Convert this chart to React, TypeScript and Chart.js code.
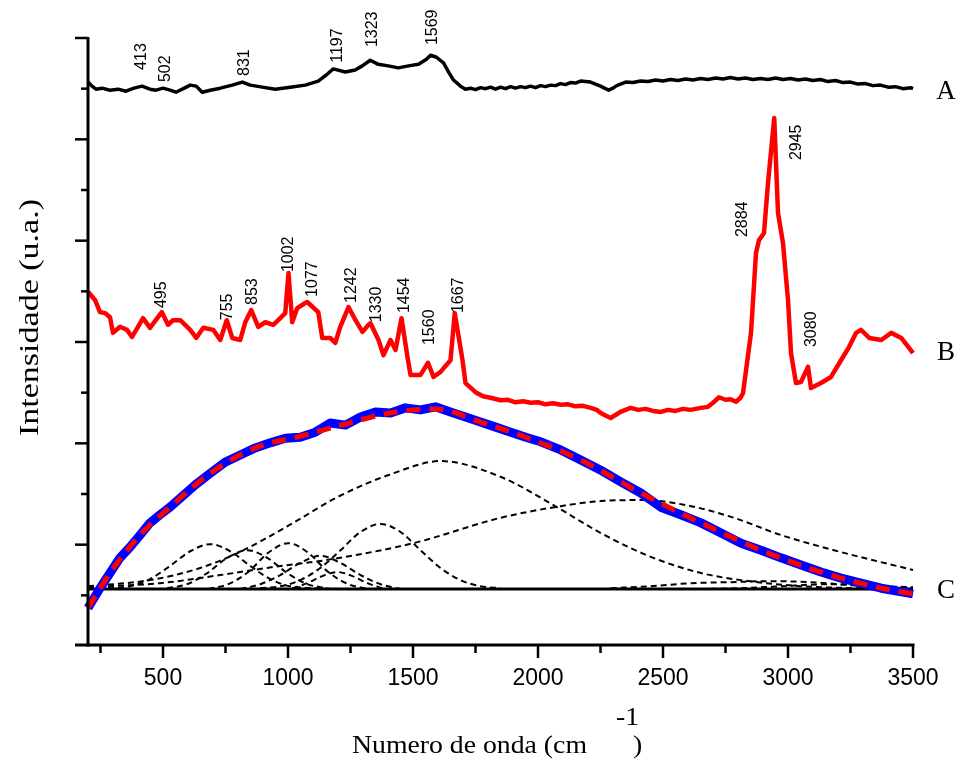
import React, { useEffect, useRef } from "react";
import { Chart, registerables } from "chart.js";

Chart.register(...registerables);

// ---------- axis ----------
const xMin = 200;
const xMax = 3500;
const yMin = 0;
const yMax = 12;
const xTickLabels = [500, 1000, 1500, 2000, 2500, 3000, 3500];

// ---------- spectrum A (black) ----------
const aWave = [200, 216, 232, 256, 288, 320, 352, 384, 416, 448, 472, 500, 528, 552, 585, 609, 633, 657, 689, 729, 777, 817, 849, 897, 949, 1009, 1069, 1121, 1153, 1181, 1229, 1269, 1297, 1329, 1361, 1401, 1441, 1482, 1522, 1554, 1570, 1594, 1622, 1642, 1662,
  1690, 1710, 1730, 1750, 1770, 1790, 1810, 1830, 1850, 1870, 1890, 1910, 1930, 1950, 1970, 1990, 2010, 2030, 2050, 2070, 2090, 2110, 2130, 2150, 2170, 2190, 2210, 2230, 2250, 2270, 2283, 2300, 2315, 2335, 2351, 2380, 2410, 2440, 2470, 2500, 2530, 2560, 2590, 2620, 2650, 2680, 2710, 2740, 2770, 2800, 2830, 2860, 2890, 2920, 2950, 2980, 3010, 3040, 3070, 3100, 3130, 3160, 3190, 3220, 3250, 3280, 3310, 3340, 3370, 3400, 3430, 3460, 3490, 3500];
const aInt = [11.13, 11.05, 10.99, 11.01, 10.97, 10.99, 10.95, 11.01, 11.05, 10.99, 10.97, 11.01, 10.97, 10.93, 11.01, 11.07, 11.05, 10.93, 10.97, 11.01, 11.07, 11.13, 11.07, 11.03, 10.99, 11.03, 11.07, 11.15, 11.27, 11.39, 11.33, 11.37, 11.45, 11.56, 11.48, 11.45, 11.41, 11.45, 11.48, 11.58, 11.66, 11.62, 11.51, 11.33, 11.17,
  11.05, 10.99, 11.01, 10.98, 11.02, 11.00, 11.03, 10.99, 11.03, 11.00, 11.04, 11.01, 11.04, 11.02, 11.05, 11.02, 11.06, 11.04, 11.07, 11.06, 11.10, 11.08, 11.12, 11.11, 11.15, 11.14, 11.13, 11.09, 11.05, 11.00, 10.97, 11.01, 11.06, 11.10, 11.13, 11.12, 11.15, 11.14, 11.17, 11.15, 11.18, 11.16, 11.19, 11.17, 11.20, 11.18, 11.21, 11.19, 11.22, 11.19, 11.21, 11.18, 11.20, 11.18, 11.21, 11.18, 11.20, 11.17, 11.19, 11.16, 11.18, 11.14, 11.16, 11.12, 11.13, 11.09, 11.10, 11.06, 11.07, 11.03, 11.04, 11.00, 11.02, 11.00];

// ---------- spectrum B (red) ----------
const bWave = [200, 228, 248, 268, 288, 300, 328, 356, 376, 400, 420, 448, 495, 520, 540, 569, 609, 633, 661, 701, 729, 755, 777, 809, 829, 853, 881, 909, 941, 969, 989, 1002, 1017, 1037, 1069, 1077, 1121, 1137, 1169, 1189, 1209, 1242, 1270, 1298, 1322, 1330, 1362, 1382, 1410, 1430, 1454, 1478, 1490, 1530, 1560, 1582, 1610, 1650, 1667, 1698, 1710,
  1750, 1780, 1810, 1850, 1880, 1910, 1940, 1971, 2000, 2030, 2060, 2091, 2120, 2150, 2180, 2211, 2235, 2251, 2270, 2291, 2310, 2330, 2350, 2371, 2400, 2430, 2460, 2491, 2520, 2550, 2580, 2610, 2651, 2680, 2700, 2724, 2750, 2770, 2792, 2810, 2820,
  2852, 2872, 2884, 2904, 2920, 2945, 2960, 2980, 3000, 3012, 3032, 3052, 3080, 3092, 3132, 3172, 3212, 3244, 3272, 3292, 3325, 3373, 3413, 3453, 3485, 3500];
const bInt = [6.99, 6.83, 6.59, 6.57, 6.49, 6.18, 6.30, 6.24, 6.10, 6.30, 6.47, 6.28, 6.59, 6.34, 6.43, 6.43, 6.24, 6.08, 6.28, 6.24, 6.04, 6.43, 6.08, 6.04, 6.39, 6.63, 6.30, 6.39, 6.34, 6.47, 6.57, 7.36, 6.39, 6.67, 6.77, 6.79, 6.59, 6.08, 6.08, 5.98, 6.30, 6.69, 6.43, 6.20, 6.34, 6.37, 6.04, 5.74, 6.04, 5.84, 6.47, 5.70, 5.35, 5.35, 5.59, 5.31, 5.41, 5.64, 6.57, 5.64, 5.19,
  5.01, 4.93, 4.90, 4.85, 4.86, 4.81, 4.83, 4.80, 4.81, 4.77, 4.79, 4.76, 4.77, 4.73, 4.74, 4.70, 4.66, 4.60, 4.55, 4.50, 4.56, 4.62, 4.66, 4.70, 4.66, 4.68, 4.64, 4.62, 4.66, 4.64, 4.68, 4.66, 4.70, 4.72, 4.80, 4.91, 4.86, 4.87, 4.82, 4.90, 4.99,
  6.18, 7.76, 8.01, 8.15, 9.14, 10.42, 8.55, 7.95, 6.83, 5.78, 5.19, 5.21, 5.51, 5.09, 5.19, 5.31, 5.64, 5.90, 6.18, 6.24, 6.08, 6.04, 6.18, 6.08, 5.88, 5.78];

// ---------- spectrum C (blue) and its fit (red dashed) ----------
const cWave = [200, 248, 288, 328, 368, 408, 448, 488, 528, 569, 629, 689, 749, 809, 869, 929, 989, 1049, 1109, 1169, 1230, 1290, 1350, 1410, 1470, 1530, 1590, 1650, 1710, 1770, 1831, 1891, 1951, 2011, 2091, 2171, 2251, 2331, 2411, 2491, 2571, 2652, 2732, 2812, 2892, 2972, 3052, 3132, 3212, 3292, 3373, 3453, 3500];
const cInt = [0.75, 1.14, 1.44, 1.74, 1.95, 2.19, 2.43, 2.59, 2.74, 2.92, 3.18, 3.41, 3.63, 3.77, 3.91, 4.01, 4.10, 4.12, 4.22, 4.40, 4.36, 4.52, 4.62, 4.60, 4.70, 4.66, 4.72, 4.62, 4.52, 4.42, 4.32, 4.22, 4.12, 4.03, 3.87, 3.67, 3.47, 3.24, 3.02, 2.74, 2.59, 2.43, 2.23, 2.03, 1.89, 1.74, 1.60, 1.46, 1.34, 1.24, 1.14, 1.07, 1.03];
const fitWave = [200, 288, 408, 528, 689, 869, 1049, 1230, 1410, 1590, 1770, 1951, 2171, 2411, 2652, 2892, 3132, 3373, 3500];
const fitInt = [0.75, 1.44, 2.19, 2.74, 3.41, 3.91, 4.14, 4.38, 4.60, 4.68, 4.42, 4.12, 3.67, 3.02, 2.43, 1.89, 1.46, 1.14, 1.03];

// ---------- baseline of C ----------
const baseWave = [200, 3500];
const baseInt = [1.125, 1.125];

// ---------- fitted components (dashed) ----------
const g1Wave = [200, 448, 649, 809, 1021, 1198, 1422, 1610, 1850, 2062, 2251, 2451, 2652, 2812, 3052, 3500];
const g1Int = [1.18, 1.30, 1.54, 1.86, 2.43, 2.94, 3.41, 3.65, 3.34, 2.78, 2.23, 1.76, 1.44, 1.30, 1.18, 1.125];
const g2Wave = [200, 488, 729, 941, 1157, 1502, 1850, 2091, 2251, 2424, 2612, 2784, 2972, 3184, 3500];
const g2Int = [1.16, 1.24, 1.40, 1.56, 1.70, 2.03, 2.53, 2.76, 2.86, 2.88, 2.76, 2.53, 2.19, 1.89, 1.50];
const g3Wave = [200, 368, 448, 528, 609, 689, 769, 849, 929, 1009, 1209];
const g3Int = [1.125, 1.18, 1.32, 1.58, 1.87, 2.01, 1.87, 1.58, 1.32, 1.18, 1.125];
const g4Wave = [516, 597, 677, 757, 837, 917, 997, 1077, 1157];
const g4Int = [1.14, 1.22, 1.44, 1.74, 1.89, 1.74, 1.44, 1.22, 1.14];
const g5Wave = [681, 761, 841, 921, 1001, 1081, 1161, 1242, 1322];
const g5Int = [1.125, 1.22, 1.46, 1.84, 2.03, 1.84, 1.46, 1.22, 1.125];
const g6Wave = [809, 889, 969, 1049, 1129, 1210, 1290, 1370, 1450];
const g6Int = [1.125, 1.22, 1.40, 1.64, 1.78, 1.64, 1.40, 1.22, 1.125];
const g7Wave = [1017, 1077, 1137, 1197, 1258, 1318, 1378];
const g7Int = [1.14, 1.24, 1.38, 1.46, 1.38, 1.24, 1.14];
const g8Wave = [889, 969, 1049, 1129, 1210, 1290, 1370, 1450, 1530, 1610, 1690, 1770, 1850];
const g8Int = [1.14, 1.18, 1.30, 1.54, 1.89, 2.25, 2.41, 2.25, 1.89, 1.54, 1.30, 1.18, 1.14];
const g9Wave = [2291, 2451, 2612, 2772, 2932, 3092, 3253, 3413, 3500];
const g9Int = [1.14, 1.18, 1.24, 1.26, 1.28, 1.26, 1.20, 1.16, 1.15];
const g10Wave = [2652, 2812, 2972, 3172, 3373, 3500];
const g10Int = [1.125, 1.14, 1.18, 1.22, 1.18, 1.16];

// ---------- peak annotations ----------
const annText = ["413", "502", "831", "1197", "1323", "1569", "495", "755", "853", "1002", "1077", "1242", "1330", "1454", "1560", "1667", "2884", "2945", "3080"];
const annWave = [412, 508, 823, 1195, 1336, 1576, 492, 753, 853, 997, 1093, 1250, 1350, 1462, 1562, 1678, 2816, 3032, 3092];
const annLevel = [11.37, 11.13, 11.25, 11.51, 11.82, 11.86, 6.67, 6.43, 6.73, 7.38, 6.89, 6.77, 6.39, 6.57, 5.94, 6.57, 8.07, 9.59, 5.90];

// ---------- series names on the right ----------
const seriesNames = ["A", "B", "C"];
const seriesLevel = [10.8, 5.64, 0.95];

const zip = (xs: number[], ys: number[]) => xs.map((x, i) => ({ x, y: ys[i] }));

const SANS = "'Liberation Sans', Arial, sans-serif";
const SERIF = "'Liberation Serif', 'Times New Roman', serif";

const axesPlugin = {
  id: "axesPlugin",
  afterDraw(chart: any) {
    const ctx: CanvasRenderingContext2D = chart.ctx;
    const xs = chart.scales.x;
    const ys = chart.scales.y;
    const x0 = xs.getPixelForValue(xMin);
    const x1 = xs.getPixelForValue(xMax);
    const yb = ys.getPixelForValue(yMin) - 1;
    const yt = ys.getPixelForValue(yMax);
    ctx.save();
    ctx.strokeStyle = "#000";
    ctx.fillStyle = "#000";
    ctx.lineCap = "butt";
    const line = (ax: number, ay: number, bx: number, by: number) => {
      ctx.beginPath();
      ctx.moveTo(ax, ay);
      ctx.lineTo(bx, by);
      ctx.stroke();
    };
    // axis lines
    ctx.lineWidth = 3;
    line(x0, yt - 1, x0, yb + 1.5);
    line(x0 - 13, yb, x1 + 1.5, yb);
    // y ticks
    ctx.lineWidth = 2.5;
    for (let i = yMin + 1; i <= yMax; i++) {
      const y = ys.getPixelForValue(i);
      const len = i % 2 === 0 ? 13 : 7;
      line(x0 - len, y, x0, y);
    }
    // x ticks
    for (let v = 250; v <= xMax; v += 250) {
      const x = xs.getPixelForValue(v);
      const len = v % 500 === 0 ? 13 : 8;
      line(x, yb, x, yb + len);
    }
    // x tick labels
    ctx.font = `23px ${SANS}`;
    ctx.textAlign = "center";
    ctx.textBaseline = "alphabetic";
    xTickLabels.forEach((v) => {
      ctx.fillText(String(v), xs.getPixelForValue(v), yb + 40);
    });

    // x title
    const drawStretched = (text: string, x: number, y: number, sx: number) => {
      ctx.save();
      ctx.translate(x, y);
      ctx.scale(sx, 1);
      ctx.textAlign = "left";
      ctx.fillText(text, 0, 0);
      ctx.restore();
    };
    ctx.font = `26px ${SERIF}`;
    const main = "Numero de onda (cm";
    const w = ctx.measureText(main).width;
    const sx = 235 / w;
    drawStretched(main, 352, 753, sx);
    drawStretched("-1", 616, 725, sx);
    drawStretched(")", 633, 753, sx);

    // y title
    ctx.save();
    ctx.font = `27px ${SERIF}`;
    const yt2 = "Intensidade (u.a.)";
    const wy = ctx.measureText(yt2).width;
    ctx.translate(38, (yt + yb) / 2 - 24);
    ctx.rotate(-Math.PI / 2);
    ctx.scale(237 / wy, 1);
    ctx.textAlign = "center";
    ctx.fillText(yt2, 0, 0);
    ctx.restore();

    // series names
    ctx.font = `27px ${SERIF}`;
    ctx.textAlign = "center";
    seriesNames.forEach((n, i) => {
      ctx.fillText(n, x1 + 33, ys.getPixelForValue(seriesLevel[i]));
    });

    // peak annotations
    ctx.font = `16px ${SANS}`;
    annText.forEach((t, i) => {
      ctx.save();
      ctx.translate(xs.getPixelForValue(annWave[i]), ys.getPixelForValue(annLevel[i]));
      ctx.rotate(-Math.PI / 2);
      ctx.textAlign = "left";
      ctx.textBaseline = "middle";
      ctx.fillText(t, 0, 1);
      ctx.restore();
    });
    ctx.restore();
  },
};

const dashedComp = (xs: number[], ys: number[]) => ({
  data: zip(xs, ys),
  borderColor: "#000",
  borderWidth: 2,
  borderDash: [6, 4],
  cubicInterpolationMode: "monotone" as const,
  order: 5,
});

export default function App() {
  const ref = useRef<HTMLCanvasElement>(null);
  useEffect(() => {
    document.body.style.margin = "0";
    const datasets: any[] = [
      {
        data: zip(fitWave, fitInt),
        borderColor: "#ff0000",
        borderWidth: 5,
        borderDash: [14, 9],
        cubicInterpolationMode: "monotone",
        order: 0,
      },
      {
        data: zip(cWave, cInt),
        borderColor: "#0000ff",
        borderWidth: 9,
        tension: 0,
        order: 1,
      },
      {
        data: zip(bWave, bInt),
        borderColor: "#ff0000",
        borderWidth: 4.5,
        tension: 0,
        order: 2,
      },
      {
        data: zip(aWave, aInt),
        borderColor: "#000",
        borderWidth: 3.5,
        tension: 0,
        order: 3,
      },
      {
        data: zip(baseWave, baseInt),
        borderColor: "#000",
        borderWidth: 3,
        order: 4,
      },
      dashedComp(g1Wave, g1Int),
      dashedComp(g2Wave, g2Int),
      dashedComp(g3Wave, g3Int),
      dashedComp(g4Wave, g4Int),
      dashedComp(g5Wave, g5Int),
      dashedComp(g6Wave, g6Int),
      dashedComp(g7Wave, g7Int),
      dashedComp(g8Wave, g8Int),
      dashedComp(g9Wave, g9Int),
      dashedComp(g10Wave, g10Int),
    ].map((d) => ({ ...d, pointRadius: 0, fill: false, clip: false, borderJoinStyle: "round" }));

    const chart = new Chart(ref.current!, {
      type: "line",
      data: { datasets },
      options: {
        responsive: false,
        animation: false,
        devicePixelRatio: 1,
        events: [],
        layout: { padding: { left: 88, right: 47, top: 38, bottom: 120 } },
        scales: {
          x: { type: "linear", min: xMin, max: xMax, display: false },
          y: { type: "linear", min: yMin, max: yMax, display: false },
        },
        plugins: { legend: { display: false }, tooltip: { enabled: false }, title: { display: false } },
      },
      plugins: [axesPlugin],
    });
    return () => chart.destroy();
  }, []);
  return (
    <div style={{ width: 960, height: 766, background: "#fff" }}>
      <canvas ref={ref} width={960} height={766} style={{ display: "block" }} />
    </div>
  );
}
